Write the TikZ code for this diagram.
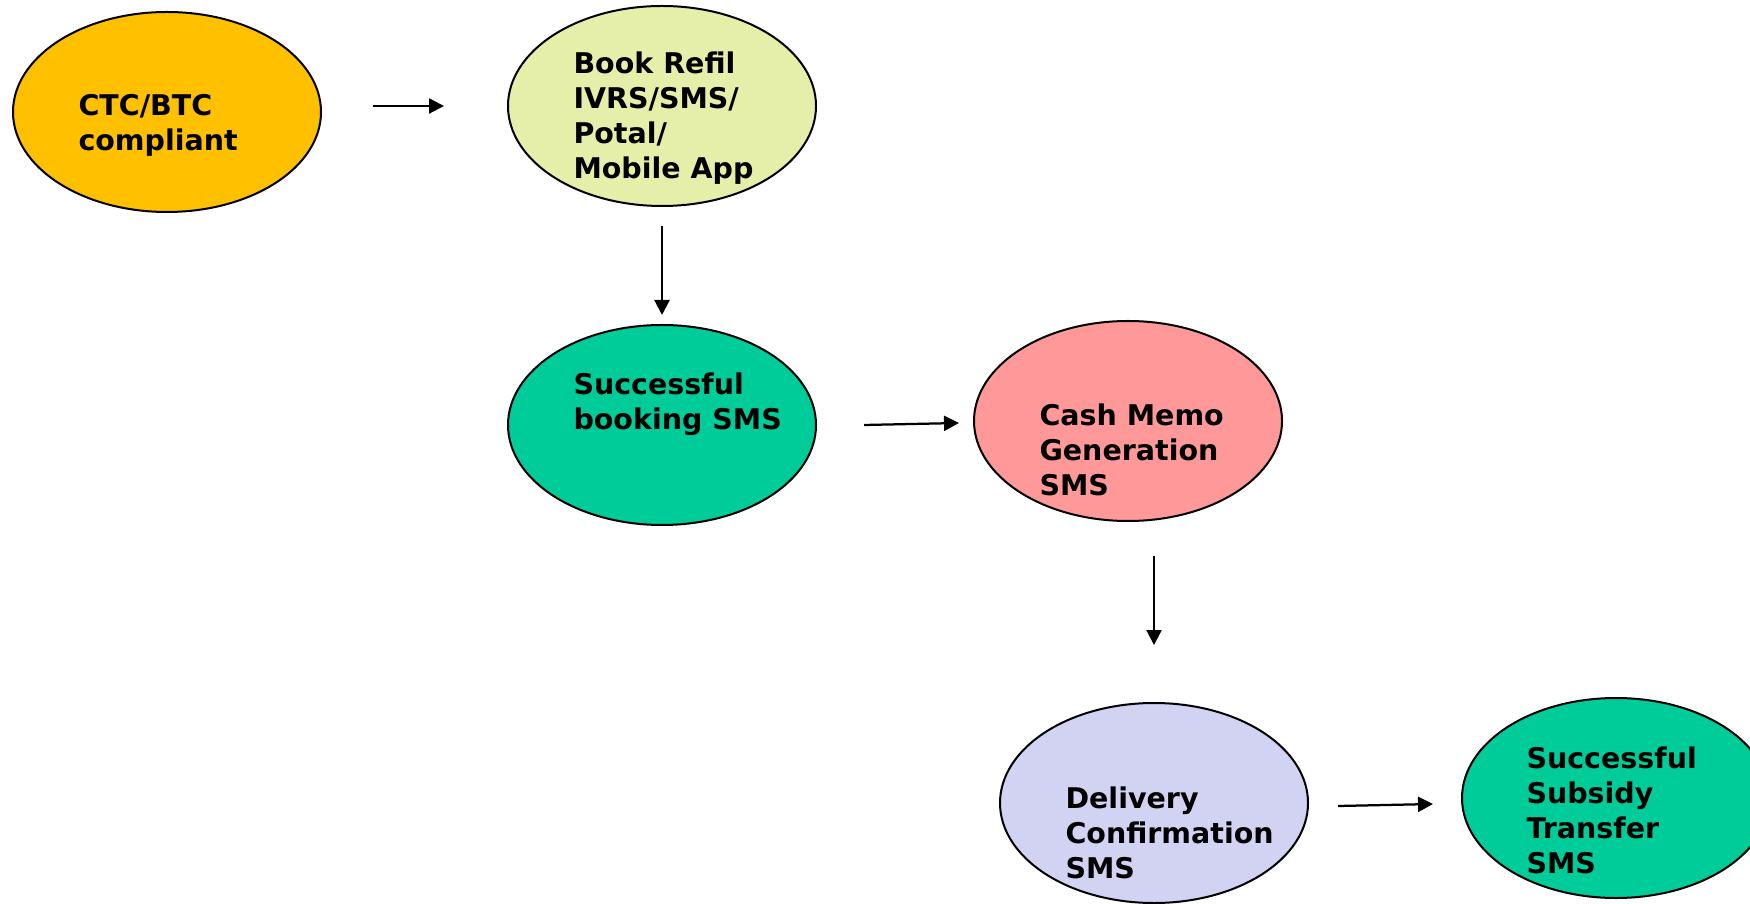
\documentclass[tikz,border=0pt]{standalone}
\usepackage{fontspec}
\setmainfont{DejaVu Sans}
\usetikzlibrary{shapes.geometric,arrows.meta}
\definecolor{cOrange}{HTML}{FFC000}
\definecolor{cLime}{HTML}{E6EFA9}
\definecolor{cTeal}{HTML}{00CC99}
\definecolor{cPink}{HTML}{FF9999}
\definecolor{cLav}{HTML}{D2D2F3}
\tikzset{
  bubble/.style={ellipse, draw=black, line width=0.8pt, minimum width=123.2pt, minimum height=80pt, inner sep=0pt},
  lbl/.style={anchor=north west, inner sep=0pt, align=left, font=\fontsize{11.4}{14}\selectfont\bfseries},
  flow/.style={line width=0.9pt, -{Triangle[length=6pt,width=6pt]}}
}
\begin{document}
\begin{tikzpicture}[x=0.4pt,y=-0.4pt]
\useasboundingbox[fill=white] (0,0) rectangle (1750,904);
\begin{scope}
\clip (0,0) rectangle (1750,904);
\node[bubble, fill=cOrange] (e1) at (167,112) {};
\node[bubble, fill=cLime] (e2) at (662,106) {};
\node[bubble, fill=cTeal] (e3) at (662,425) {};
\node[bubble, fill=cPink] (e4) at (1128,421) {};
\node[bubble, fill=cLav] (e5) at (1154,803) {};
\node[bubble, fill=cTeal] (e6) at (1616,798) {};
\end{scope}
\node[lbl] (t1) at (78,94) {CTC/BTC\\compliant};
\node[lbl] (t2) at (573,51) {Book Refil\\IVRS/SMS/\\Potal/\\Mobile App};
\node[lbl] (t3) at (573,372) {Successful\\booking SMS};
\node[lbl] (t4) at (1039,403) {Cash Memo\\Generation\\SMS};
\node[lbl] (t5) at (1065,786) {Delivery\\Confirmation\\SMS};
\node[lbl] (t6) at (1526,746) {Successful\\Subsidy\\Transfer\\SMS};
\coordinate (a1s) at (373,106); \coordinate (a1e) at (444,106);
\coordinate (a2s) at (662,226); \coordinate (a2e) at (662,315);
\coordinate (a3s) at (864,425); \coordinate (a3e) at (959,423);
\coordinate (a4s) at (1154,556); \coordinate (a4e) at (1154,645);
\coordinate (a5s) at (1338,806); \coordinate (a5e) at (1433,804);
\draw[flow] (a1s) -- (a1e);
\draw[flow] (a2s) -- (a2e);
\draw[flow] (a3s) -- (a3e);
\draw[flow] (a4s) -- (a4e);
\draw[flow] (a5s) -- (a5e);
\end{tikzpicture}
\end{document}
